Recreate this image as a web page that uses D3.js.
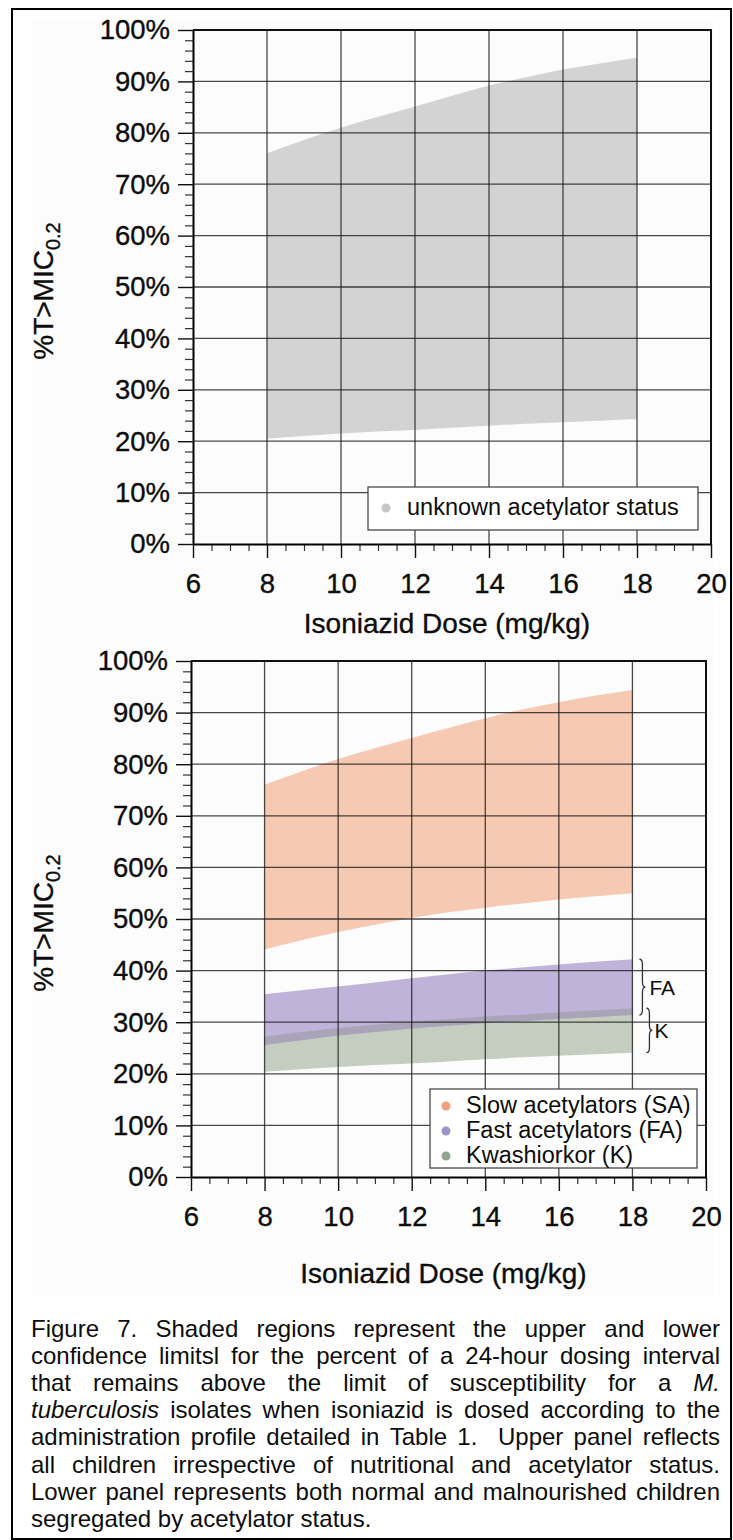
<!DOCTYPE html>
<html>
<head>
<meta charset="utf-8">
<script src="https://cdn.jsdelivr.net/npm/d3@7"></script>
<style>
  html, body { margin: 0; padding: 0; background: #ffffff; }
  svg { display: block; }
  text { font-family: "Liberation Sans", Arial, Helvetica, sans-serif; fill: #0d0d0d; }
  .heavy { stroke: #0d0d0d; stroke-width: 0.35px; }
</style>
</head>
<body>
<svg id="fig" width="733" height="1540"></svg>
<script>
// ---- data: %T>MIC0.2 confidence limits by isoniazid dose (mg/kg) ----
const doses      = [8, 9, 10, 11, 12, 13, 14, 15, 16, 17, 18];
const allUpper   = [76.0, 78.6, 81.0, 83.1, 85.1, 87.2, 89.2, 90.8, 92.3, 93.5, 94.6];
const allLower   = [20.5, 21.0, 21.5, 21.9, 22.2, 22.6, 23.0, 23.4, 23.7, 24.0, 24.3];
const slowUpper  = [76.0, 78.6, 81.0, 83.1, 85.1, 87.0, 88.9, 90.6, 92.0, 93.3, 94.4];
const slowLower  = [44.1, 45.9, 47.5, 48.9, 50.2, 51.3, 52.2, 53.0, 53.8, 54.4, 55.0];
const fastUpper  = [35.4, 36.2, 36.9, 37.7, 38.5, 39.3, 40.0, 40.6, 41.2, 41.7, 42.2];
const fastLower  = [25.6, 26.5, 27.4, 28.1, 28.8, 29.3, 29.8, 30.2, 30.6, 31.0, 31.4];
const kwashUpper = [27.2, 28.1, 28.9, 29.5, 30.1, 30.6, 31.1, 31.5, 31.9, 32.3, 32.7];
const kwashLower = [20.4, 20.9, 21.3, 21.7, 22.0, 22.4, 22.8, 23.2, 23.5, 23.8, 24.1];

const xTickValues = [6, 8, 10, 12, 14, 16, 18, 20];
const yTickValues = [0, 10, 20, 30, 40, 50, 60, 70, 80, 90, 100];
const xTitle = "Isoniazid Dose (mg/kg)";
const yTitleMain = "%T>MIC";
const yTitleSub = "0.2";
const legendTopLabels = ["unknown acetylator status"];
const legendBottomLabels = ["Slow acetylators (SA)", "Fast acetylators (FA)", "Kwashiorkor (K)"];
const bracketLabels = ["FA", "K"];

const captionLines = [
  "Figure 7. Shaded regions represent the upper and lower",
  "confidence limitsl for the percent of a 24-hour dosing interval",
  "that remains above the limit of susceptibility for a *M.*",
  "*tuberculosis* isolates when isoniazid is dosed according to the",
  "administration profile detailed in Table 1.  Upper panel reflects",
  "all children irrespective of nutritional and acetylator status.",
  "Lower panel represents both normal and malnourished children",
  "segregated by acetylator status."
];

// ---- colours ----
const C = {
  unknown: "#d3d3d3", unknownDot: "#c6c6c6",
  slow: "#f6c9b3", slowDot: "#f0a07f",
  fast: "#bfb3da", fastDot: "#9d92c8",
  kwash: "#c5cdc0", kwashDot: "#92a48f",
  overlap: "#a9a4b8"
};

const svg = d3.select("#fig");

// outer figure frame and plot-image background
svg.append("rect").attr("x", 32).attr("y", 20).attr("width", 681).attr("height", 1276)
  .attr("fill", "#fcfcfc");
svg.append("rect").attr("x", 12).attr("y", 9).attr("width", 719).attr("height", 1530)
  .attr("fill", "none").attr("stroke", "#000").attr("stroke-width", 2);

function brace(x0, y0, y1, w) {
  const ym = (y0 + y1) / 2, xm = x0 + w * 0.5, r = Math.min(5, (y1 - y0) / 8);
  return `M${x0},${y0} Q${xm},${y0} ${xm},${y0 + r} L${xm},${ym - r} Q${xm},${ym} ${x0 + w},${ym}` +
         ` Q${xm},${ym} ${xm},${ym + r} L${xm},${y1 - r} Q${xm},${y1} ${x0},${y1}`;
}

function drawPanel(cfg) {
  const { box } = cfg;
  const x = d3.scaleLinear().domain([6, 20]).range([box.l, box.r]);
  const y = d3.scaleLinear().domain([0, 100]).range([box.b, box.t]);
  const g = svg.append("g");

  // shaded confidence bands
  const area = d3.area().curve(d3.curveMonotoneX)
    .x(d => x(d.x)).y0(d => y(d.lo)).y1(d => y(d.hi));
  cfg.bands.forEach(b => {
    g.append("path")
      .datum(doses.map((d, i) => ({ x: d, lo: b.lo[i], hi: b.hi[i] })))
      .attr("d", area).attr("fill", b.color);
  });

  // grid
  const grid = g.append("g").attr("stroke", "#1c1c1c").attr("stroke-opacity", 0.8).attr("stroke-width", 1.3);
  grid.selectAll("line.v").data(xTickValues.slice(1, -1)).join("line").attr("class", "v")
    .attr("x1", d => x(d)).attr("x2", d => x(d)).attr("y1", box.t).attr("y2", box.b);
  grid.selectAll("line.h").data(yTickValues.slice(1, -1)).join("line").attr("class", "h")
    .attr("x1", box.l).attr("x2", box.r).attr("y1", d => y(d)).attr("y2", d => y(d));

  // top and right frame
  g.append("path").attr("d", `M${box.l},${box.t}H${box.r}V${box.b}`)
    .attr("fill", "none").attr("stroke", "#111").attr("stroke-width", 2);

  // y axis: majors with labels, minors every 2%
  const yMinor = g.append("g").attr("transform", `translate(${box.l},0)`)
    .call(d3.axisLeft(y).tickValues(d3.range(0, 101, 2).filter(v => v % 10 !== 0)).tickSize(8).tickFormat(""));
  yMinor.select(".domain").remove();
  yMinor.selectAll(".tick line").attr("stroke", "#333").attr("stroke-width", 1.2);

  const yAx = g.append("g").attr("transform", `translate(${box.l},0)`)
    .call(d3.axisLeft(y).tickValues(yTickValues).tickSize(15).tickSizeOuter(0).tickPadding(8)
      .tickFormat(d => d + "%"));
  yAx.select(".domain").attr("stroke", "#000").attr("stroke-width", 2);
  yAx.selectAll(".tick line").attr("stroke", "#111").attr("stroke-width", 1.4);
  yAx.selectAll(".tick text").attr("font-size", 27.5).attr("fill", "#0d0d0d").attr("class", "heavy")
    .style("font-family", '"Liberation Sans", Arial, sans-serif');

  // x axis: majors with labels, minors every 0.5
  const xMinor = g.append("g").attr("transform", `translate(0,${box.b})`)
    .call(d3.axisBottom(x).tickValues(d3.range(6.5, 20, 0.5).filter(v => v % 2 !== 0)).tickSize(7).tickFormat(""));
  xMinor.select(".domain").remove();
  xMinor.selectAll(".tick line").attr("stroke", "#333").attr("stroke-width", 1.2);

  const xAx = g.append("g").attr("transform", `translate(0,${box.b})`)
    .call(d3.axisBottom(x).tickValues(xTickValues).tickSize(14).tickSizeOuter(0).tickPadding(15));
  xAx.select(".domain").attr("stroke", "#000").attr("stroke-width", 2);
  xAx.selectAll(".tick line").attr("stroke", "#111").attr("stroke-width", 1.4);
  xAx.selectAll(".tick text").attr("font-size", 27.5).attr("fill", "#0d0d0d").attr("class", "heavy")
    .style("font-family", '"Liberation Sans", Arial, sans-serif');

  // axis titles
  g.append("text").attr("x", (box.l + box.r) / 2 - 5).attr("y", cfg.xTitleY)
    .attr("text-anchor", "middle").attr("font-size", 28).attr("class", "heavy").text(xTitle);

  const yt = g.append("text")
    .attr("transform", `translate(53,${(box.t + box.b) / 2 + 4}) rotate(-90)`)
    .attr("text-anchor", "middle").attr("font-size", 28).attr("class", "heavy");
  yt.append("tspan").text(yTitleMain);
  yt.append("tspan").attr("font-size", 20).attr("dy", 7).text(yTitleSub);

  // legend
  const L = cfg.legend;
  g.append("rect").attr("x", L.x).attr("y", L.y).attr("width", L.w).attr("height", L.h)
    .attr("fill", "#fff").attr("stroke", "#3a3a3a").attr("stroke-width", 1.2);
  L.items.forEach((it, i) => {
    const by = L.y + L.first + i * 25;
    g.append("circle").attr("cx", L.x + L.dotDx).attr("cy", by - 7).attr("r", 4.5).attr("fill", it.color);
    g.append("text").attr("x", L.x + L.textDx).attr("y", by).attr("font-size", 23.5).text(it.label);
  });

  return { x, y, g };
}

// ---- upper panel: all children ----
drawPanel({
  box: { l: 193, r: 711, t: 30, b: 544 },
  xTitleY: 633,
  bands: [{ lo: allLower, hi: allUpper, color: C.unknown }],
  legend: { x: 368, y: 487, w: 330, h: 43, first: 28, dotDx: 18, textDx: 39,
            items: legendTopLabels.map(l => ({ label: l, color: C.unknownDot })) }
});

// ---- lower panel: by acetylator / nutritional status ----
const lower = drawPanel({
  box: { l: 191, r: 706, t: 661, b: 1177 },
  xTitleY: 1283,
  bands: [
    { lo: slowLower, hi: slowUpper, color: C.slow },
    { lo: kwashLower, hi: kwashUpper, color: C.kwash },
    { lo: fastLower, hi: fastUpper, color: C.fast },
    { lo: fastLower, hi: kwashUpper, color: C.overlap }
  ],
  legend: { x: 430, y: 1089, w: 267, h: 79, first: 24, dotDx: 16, textDx: 36,
            items: [
              { label: legendBottomLabels[0], color: C.slowDot },
              { label: legendBottomLabels[1], color: C.fastDot },
              { label: legendBottomLabels[2], color: C.kwashDot }
            ] }
});

// braces marking the FA and K ranges at the highest dose
{
  const { x, y, g } = lower;
  const last = doses.length - 1;
  const xe = x(doses[last]);
  const groups = [
    { hi: fastUpper[last], lo: fastLower[last], dx: 7, tx: 17, label: bracketLabels[0] },
    { hi: kwashUpper[last], lo: kwashLower[last], dx: 14, tx: 22, label: bracketLabels[1] }
  ];
  groups.forEach(b => {
    const y0 = y(b.hi), y1 = y(b.lo);
    g.append("path").attr("d", brace(xe + b.dx, y0, y1, 6))
      .attr("fill", "none").attr("stroke", "#333").attr("stroke-width", 1.3);
    g.append("text").attr("x", xe + b.tx).attr("y", (y0 + y1) / 2 + 7.5)
      .attr("font-size", 21).text(b.label);
  });
}

// ---- caption, justified ----
{
  const left = 31, right = 720, top = 1337, lead = 27.1;
  captionLines.forEach((line, i) => {
    const by = top + i * lead;
    const words = line.split(" ").map(w => {
      const italic = /^\*.*\*$/.test(w);
      return { text: italic ? w.slice(1, -1) : w, italic };
    });
    const nodes = words.map(w => svg.append("text")
      .attr("y", by).attr("font-size", 24).attr("fill", "#000")
      .attr("font-style", w.italic ? "italic" : "normal").text(w.text));
    const widths = nodes.map(n => n.node().getComputedTextLength());
    const total = d3.sum(widths);
    const isLast = i === captionLines.length - 1;
    const gap = isLast ? 6.7 : (right - left - total) / (words.length - 1);
    let cx = left;
    nodes.forEach((n, k) => { n.attr("x", cx); cx += widths[k] + gap; });
  });
}
</script>
</body>
</html>
